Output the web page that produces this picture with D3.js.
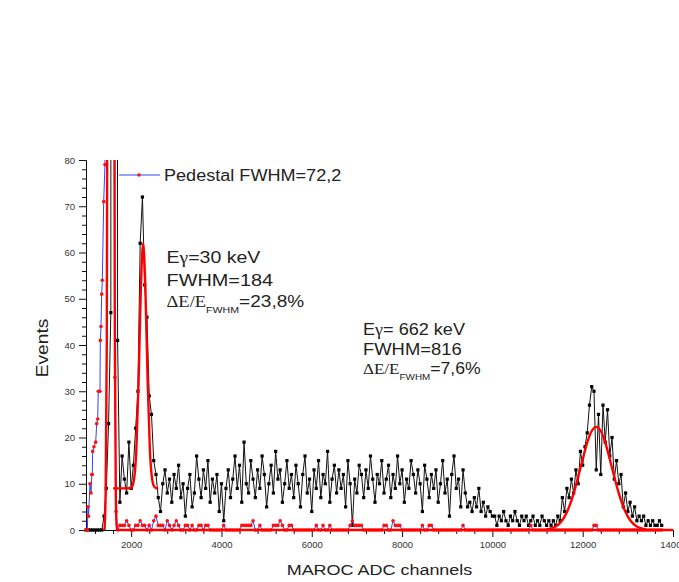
<!DOCTYPE html>
<html>
<head>
<meta charset="utf-8">
<script src="https://cdn.jsdelivr.net/npm/d3@7"></script>
<style>
  body { margin: 0; background: #fff; }
  text { font-family: "Liberation Sans", Arial, sans-serif; }
</style>
</head>
<body>
<div id="chart"></div>
<script>
// measured spectrum, 50-channel bins starting at channel 1000
const binStart = 1000;
const binWidth = 50;
const countsPedestalRegion = [0, 0, 0, 0, 0, 0, 0, 0, 3, 9, 23, 47, 1400, 900, 41];
const counts30keV = [6, 16, 11, 8, 19, 9, 14, 22, 30, 62, 72, 53, 46, 29, 25, 15, 12, 7];
const countsPlateau = [
  4, 10, 13, 8, 11, 6, 12, 9, 14, 7,
  10, 3, 9, 12, 5, 8, 16, 11, 7, 13,
  9, 15, 6, 11, 8, 12, 4, 10, 2, 9,
  13, 7, 11, 16, 9, 14, 6, 19, 10, 8,
  15, 11, 7, 13, 9, 16, 12, 5, 10, 14,
  8, 17, 11, 13, 6, 10, 15, 9, 12, 7,
  14, 10, 5, 12, 16, 8, 11, 4, 13, 9,
  15, 7, 12, 10, 17, 6, 11, 14, 8, 13,
  9, 12, 5, 15, 10, 1, 11, 8, 14, 12,
  7, 13, 9, 16, 11, 6, 12, 10, 15, 8,
  11, 14, 7, 12, 9, 16, 10, 13, 6, 11,
  9, 15, 12, 8, 13, 10, 4, 14, 11, 7,
  12, 9, 13, 6, 10, 15, 8, 11, 3, 12,
  16, 9, 11, 5, 13
];
const countsValley = [
  8, 5, 6, 4, 7, 5, 9, 4, 6, 3, 5, 4, 3, 3, 1, 3, 2, 4, 2,
  1, 3, 2, 4, 2, 1, 3, 2, 3, 1, 2, 3, 1, 2, 1, 3, 2, 1, 2
];
const counts662keV = [
  1, 2, 1, 3, 2, 7, 4, 9, 7, 11,
  8, 13, 10, 17, 14, 18, 21, 27, 31, 30,
  13, 25, 12, 27, 19, 26, 16, 20, 11, 15,
  10, 12, 5, 8, 4, 6, 3, 5, 2, 3,
  2, 3, 1, 2, 1, 2, 1, 1, 2, 1
];

// pedestal run (no source)
const pedHeadChannels = [1000, 1030, 1044, 1056, 1089, 1111, 1128, 1139, 1148, 1177, 1215, 1237, 1259, 1272, 1310, 1317, 1332, 1348, 1361, 1392, 1420, 1450, 1500, 1560, 1610, 1640, 1665];
const pedHeadCounts = [0, 0, 5, 3, 10, 8, 12, 12, 17, 18, 19, 23, 24, 30, 30, 41, 44, 51, 54, 71, 79, 180, 900, 2000, 800, 33, 4];
const pedTailStart = 1700;
const pedTailEnd = 13750;
const pedTailHitChannels = [1750, 1800, 1850, 1900, 1950, 2100, 2150, 2200, 2250, 2300, 2400, 2500, 2550, 2600, 2650, 2700, 2800, 2850, 2950, 3000, 3050, 3200, 3250, 3350, 3500, 3550, 3650, 3700, 4050, 4450, 4500, 4550, 4600, 4650, 4700, 4850, 5150, 5200, 5250, 5300, 5350, 5500, 5550, 6100, 6250, 6400, 6850, 6900, 6950, 7000, 7050, 7100, 7600, 7650, 7800, 7850, 7900, 7950, 8450, 8600, 8650, 9350, 10850, 12250, 12300];
const pedTailHitCounts = [1, 1, 1, 2, 1, 1, 1, 2, 1, 1, 1, 2, 3, 1, 1, 1, 2, 1, 1, 2, 1, 1, 1, 1, 1, 1, 1, 1, 1, 1, 1, 1, 1, 1, 2, 1, 1, 1, 1, 2, 1, 1, 1, 1, 1, 1, 1, 2, 1, 1, 1, 1, 1, 1, 2, 1, 1, 1, 1, 1, 1, 1, 1, 1, 1];

// gaussian fits
const fitPedChannels = [1410, 1435, 1460, 1485, 1510, 1550, 1590, 1615, 1640, 1660, 1685, 14000];
const fitPedCounts = [0, 8, 40, 160, 500, 900, 500, 160, 40, 8, 0, 0];
const fit30Channels = [1600, 1800, 1965, 2015, 2065, 2115, 2165, 2215, 2265, 2315, 2365, 2415, 2465, 2515, 2565, 2600];
const fit30Counts = [9, 9, 9.03, 9.3, 11, 17.3, 32.3, 52.2, 62, 52.2, 32.3, 17.3, 11, 9.3, 9.03, 9];
const fit662Channels = [11200, 11300, 11400, 11500, 11600, 11700, 11800, 11900, 12000, 12100, 12200, 12300, 12400, 12500, 12600, 12700, 12800, 12900, 13000, 13100, 13200, 13300, 13400];
const fit662Counts = [0.14, 0.35, 0.77, 1.55, 2.9, 5.0, 7.9, 11.5, 15.3, 18.9, 21.4, 22.3, 21.4, 18.9, 15.3, 11.5, 7.9, 5.0, 2.9, 1.55, 0.77, 0.35, 0.14];

const xTicks = [2000, 4000, 6000, 8000, 10000, 12000, 14000];
const xTickLabels = ["2000", "4000", "6000", "8000", "10000", "12000", "14000"];
const yTicks = [0, 10, 20, 30, 40, 50, 60, 70, 80];

const width = 679;
const height = 582;

const spectrum = [].concat(countsPedestalRegion, counts30keV, countsPlateau, countsValley, counts662keV)
  .map((c, i) => ({ ch: binStart + i * binWidth, ct: c }));

const tailHits = new Map(pedTailHitChannels.map((c, i) => [c, pedTailHitCounts[i]]));
const pedestal = pedHeadChannels.map((c, i) => ({ ch: c, ct: pedHeadCounts[i] }));
for (let c = pedTailStart; c <= pedTailEnd; c += binWidth) {
  pedestal.push({ ch: c, ct: tailHits.get(c) || 0 });
}

const zip = (chs, cts) => chs.map((c, i) => ({ ch: c, ct: cts[i] }));
const fits = [zip(fitPedChannels, fitPedCounts), zip(fit30Channels, fit30Counts), zip(fit662Channels, fit662Counts)];

const svg = d3.select("#chart").append("svg")
  .attr("width", width)
  .attr("height", height);

const x = d3.scaleLinear().domain([1000, 14000]).range([86, 673]);
const y = d3.scaleLinear().domain([0, 80]).range([530, 160]);

svg.append("defs").append("clipPath").attr("id", "plot-clip")
  .append("rect").attr("x", 84).attr("y", 160).attr("width", 600).attr("height", 376);

// axes, minor ticks first
const minorX = d3.range(1200, 14001, 400).filter((v) => v % 2000 !== 0);
const minorY = d3.range(0, 81, 2).filter((v) => v % 10 !== 0);

const xMinor = svg.append("g").attr("transform", "translate(0,530)")
  .call(d3.axisBottom(x).tickValues(minorX).tickSize(4).tickFormat("").tickSizeOuter(0));
const yMinor = svg.append("g").attr("transform", "translate(86,0)")
  .call(d3.axisLeft(y).tickValues(minorY).tickSize(4).tickFormat("").tickSizeOuter(0));

const xAxis = svg.append("g").attr("transform", "translate(0,530)")
  .call(d3.axisBottom(x).tickValues(xTicks).tickSize(7).tickPadding(4.5).tickSizeOuter(0)
    .tickFormat((d, i) => xTickLabels[i]));
const yAxis = svg.append("g").attr("transform", "translate(86,0)")
  .call(d3.axisLeft(y).tickValues(yTicks).tickSize(7).tickPadding(4).tickSizeOuter(0)
    .tickFormat(d3.format("d")));

[xMinor, yMinor, xAxis, yAxis].forEach((g) => {
  g.selectAll("path, line").attr("stroke", "#111").attr("stroke-width", 1);
});
[xAxis, yAxis].forEach((g) => {
  g.selectAll("text").attr("fill", "#333").style("font-size", "9.5px")
    .style("font-family", "'Liberation Sans', Arial, sans-serif");
});

const plot = svg.append("g").attr("clip-path", "url(#plot-clip)");

const line = d3.line().x((d) => x(d.ch)).y((d) => y(d.ct));

// black: spectrum with source
plot.append("path").datum(spectrum)
  .attr("fill", "none").attr("stroke", "#111").attr("stroke-width", 1)
  .attr("d", line);
plot.selectAll(".sq").data(spectrum).enter().append("rect")
  .attr("class", "sq")
  .attr("x", (d) => x(d.ch) - 1.6).attr("y", (d) => y(d.ct) - 1.6)
  .attr("width", 3.2).attr("height", 3.2).attr("fill", "#000");

// blue line + red dots: pedestal
plot.append("path").datum(pedestal)
  .attr("fill", "none").attr("stroke", "#3344ff").attr("stroke-width", 1)
  .attr("d", line);
plot.selectAll(".dot").data(pedestal).enter().append("circle")
  .attr("class", "dot")
  .attr("cx", (d) => x(d.ch)).attr("cy", (d) => y(d.ct))
  .attr("r", 1.8).attr("fill", "#ff1010");

// red fits
const fitLine = d3.line().curve(d3.curveMonotoneX).x((d) => x(d.ch)).y((d) => y(d.ct));
fits.forEach((f) => {
  plot.append("path").datum(f)
    .attr("fill", "none").attr("stroke", "#ff0000").attr("stroke-width", 2.4)
    .attr("d", fitLine);
});

// legend
svg.append("line").attr("x1", 119).attr("x2", 160).attr("y1", 175).attr("y2", 175)
  .attr("stroke", "#3344ff").attr("stroke-width", 1);
svg.append("circle").attr("cx", 139).attr("cy", 175).attr("r", 1.8).attr("fill", "#ff1010");

// stretched text helper (the original font renders wide)
const label = (px, py, sx, parts, rotate) => {
  const g = svg.append("g")
    .attr("transform", `translate(${px},${py})${rotate ? " rotate(-90)" : ""} scale(${sx},1)`);
  const t = g.append("text").attr("fill", "#222");
  parts.forEach((p) => {
    t.append("tspan")
      .attr("dy", p.dy || 0)
      .style("font-size", p.size + "px")
      .style("font-family", p.serif ? "'Liberation Serif', 'Times New Roman', serif" : "'Liberation Sans', Arial, sans-serif")
      .text(p.text);
  });
  return t;
};

label(164, 181, 1.13, [{ text: "Pedestal FWHM=72,2", size: 16 }]);

label(166.5, 263, 1.15, [{ text: "E", size: 17 }, { text: "γ", size: 17, serif: true }, { text: "=30 keV", size: 17 }]);
label(166.5, 285.5, 1.17, [{ text: "FWHM=184", size: 17 }]);
label(166.5, 306.5, 1.12, [
  { text: "ΔE/E", size: 16.5, serif: true },
  { text: "FWHM", size: 9.5, dy: 6.5 },
  { text: "=23,8%", size: 17, dy: -6.5 }
]);

label(363, 335, 1.13, [{ text: "E", size: 16 }, { text: "γ", size: 16, serif: true }, { text: "= 662 keV", size: 16 }]);
label(363, 354.5, 1.15, [{ text: "FWHM=816", size: 16 }]);
label(363, 373.5, 1.1, [
  { text: "ΔE/E", size: 15.5, serif: true },
  { text: "FWHM", size: 9, dy: 6.5 },
  { text: "=7,6%", size: 16, dy: -6.5 }
]);

// axis titles
label(379.5, 574.5, 1.16, [{ text: "MAROC ADC channels", size: 15.5 }]).attr("text-anchor", "middle");
label(48, 348, 1.2, [{ text: "Events", size: 16 }], true).attr("text-anchor", "middle");
</script>
</body>
</html>
